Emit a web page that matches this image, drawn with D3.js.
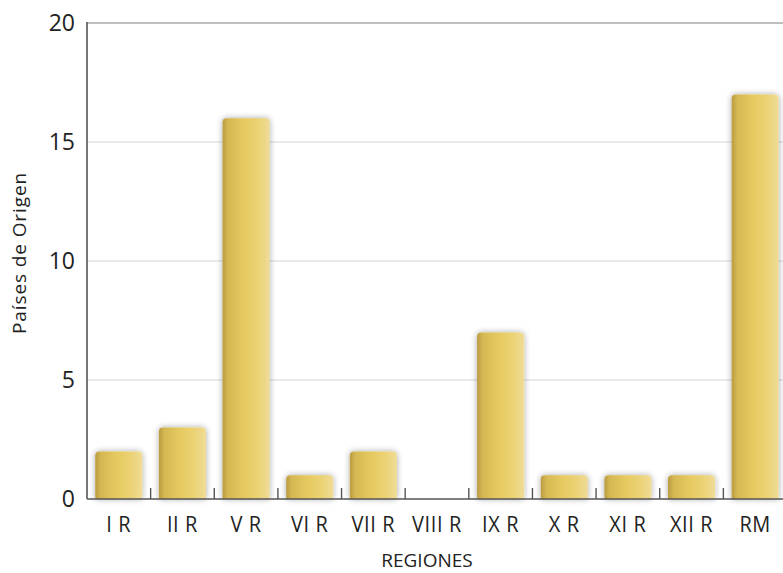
<!DOCTYPE html>
<html><head><meta charset="utf-8">
<script src="https://cdn.jsdelivr.net/npm/d3@7"></script>
<style>body{margin:0;background:#fff}svg{display:block}</style>
</head><body>
<script>
const categories = ["I R","II R","V R","VI R","VII R","VIII R","IX R","X R","XI R","XII R","RM"];
const values = [2,3,16,1,2,0,7,1,1,1,17];
const yTicks = [0,5,10,15,20];
const yTitle = "Países de Origen";
const xTitle = "REGIONES";

const W=783,H=573;
const svg=d3.select("body").append("svg").attr("width",W).attr("height",H);
const defs=svg.append("defs");
const g=defs.append("linearGradient").attr("id","barg").attr("x1","0").attr("x2","1").attr("y1","0").attr("y2","0");
[["0%","#b99b42"],["12%","#d6b853"],["45%","#e6c95f"],["75%","#ebd274"],["100%","#efdc97"]].forEach(s=>g.append("stop").attr("offset",s[0]).attr("stop-color",s[1]));
const f=defs.append("filter").attr("id","sh").attr("x","-30%").attr("y","-30%").attr("width","160%").attr("height","160%");
f.append("feGaussianBlur").attr("in","SourceAlpha").attr("stdDeviation",3).attr("result","b");
f.append("feComponentTransfer").attr("in","b").attr("result","o2").append("feFuncA").attr("type","linear").attr("slope",0.35);
const m=f.append("feMerge");m.append("feMergeNode").attr("in","o2");m.append("feMergeNode").attr("in","SourceGraphic");

const x0=87, x1=787, yTop=23, yBot=499;
const x=d3.scaleBand().domain(categories).range([x0,x1]).paddingInner(0.26).paddingOuter(0.13);
const y=d3.scaleLinear().domain([0,20]).range([yBot,yTop]);
const font="'Open Sans', 'Noto Sans', sans-serif";

// grid
svg.append("g").selectAll("line").data(yTicks.filter(d=>d>0)).join("line")
 .attr("x1",x0).attr("x2",W).attr("y1",d=>y(d)).attr("y2",d=>y(d))
 .attr("stroke",d=>d===20?"#aaa":"#d6d6d6").attr("stroke-width",d=>d===20?1.5:1.2);

// bars
const bw=x.bandwidth(), r=4;
svg.append("g").selectAll("path").data(categories.map((c,i)=>({c,v:values[i]})).filter(d=>d.v>0)).join("path")
 .attr("d",d=>{const X=x(d.c),Y=y(d.v),B=y(0);return `M${X},${B}V${Y+r}Q${X},${Y} ${X+r},${Y}H${X+bw-r}Q${X+bw},${Y} ${X+bw},${Y+r}V${B}Z`;})
 .attr("fill","url(#barg)").attr("filter","url(#sh)");

// axes lines
svg.append("line").attr("x1",x0).attr("x2",x0).attr("y1",yTop-1).attr("y2",yBot).attr("stroke","#555").attr("stroke-width",1.6);
svg.append("line").attr("x1",x0).attr("x2",W).attr("y1",yBot).attr("y2",yBot).attr("stroke","#555").attr("stroke-width",1.6);
const step=x.step();
svg.append("g").selectAll("line").data(categories.slice(1)).join("line")
 .attr("x1",d=>x(d)-step*x.paddingInner()/2).attr("x2",d=>x(d)-step*x.paddingInner()/2)
 .attr("y1",yBot).attr("y2",yBot-11).attr("stroke","#555").attr("stroke-width",1.4);

// labels
const lab=svg.append("g");
lab.append("g").selectAll("text").data(yTicks).join("text")
 .attr("x",75).attr("y",d=>y(d)+8).attr("text-anchor","end")
 .attr("font-family",font).attr("font-size",23).attr("fill","#222").text(d=>d);
lab.append("g").selectAll("text").data(categories).join("text")
 .attr("transform",d=>`translate(${x(d)+bw/2},532) scale(1,1.1)`).attr("text-anchor","middle")
 .attr("font-family",font).attr("font-size",20).attr("letter-spacing",0.6).attr("fill","#222").text(d=>d);
lab.append("text").attr("x",427).attr("y",567).attr("text-anchor","middle")
 .attr("font-family",font).attr("font-size",19).attr("fill","#222").text(xTitle);
lab.append("text").attr("transform","translate(26,253) rotate(-90)").attr("text-anchor","middle")
 .attr("font-family",font).attr("font-size",19).attr("letter-spacing",0.9).attr("fill","#222").text(yTitle);
</script>
</body></html>
